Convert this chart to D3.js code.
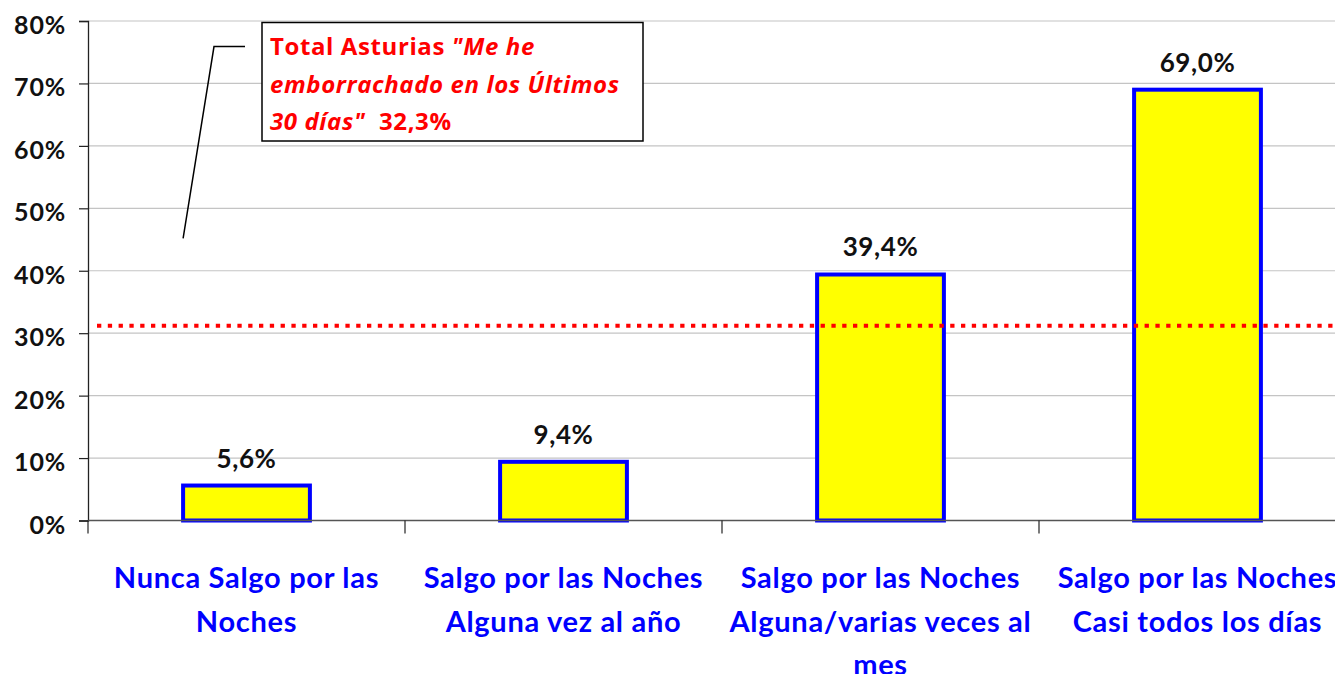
<!DOCTYPE html>
<html>
<head>
<meta charset="utf-8">
<script src="https://cdn.jsdelivr.net/npm/d3@7"></script>
<style>
  body { margin: 0; background: #fff; }
  text { font-family: Lato, "Open Sans", sans-serif; font-weight: bold; }
</style>
</head>
<body>
<script>
// chart data
const categories = ['nunca', 'alguna-vez-ano', 'varias-veces-mes', 'casi-todos'];
const categoryLines = [
  ['Nunca Salgo por las', 'Noches'],
  ['Salgo por las Noches', 'Alguna vez al año'],
  ['Salgo por las Noches', 'Alguna/varias veces al', 'mes'],
  ['Salgo por las Noches', 'Casi todos los días']
];
const values = [5.6, 9.4, 39.4, 69.0];
const valueLabels = ['5,6%', '9,4%', '39,4%', '69,0%'];
const yTicks = [0, 10, 20, 30, 40, 50, 60, 70, 80];
const totalLineValue = 31.2;   // where the dotted line is drawn
const noteLines = [
  [['Total Asturias ', false], ['"Me he', true]],
  [['emborrachado en los Últimos', true]],
  [['30 días"', true], ['  32,3%', false]]
];

const width = 1335, height = 674;
const plotLeft = 88, plotBottom = 520.5, plotTop = 21;

const svg = d3.select('body')
  .append('svg')
  .attr('width', width)
  .attr('height', height);

const x = d3.scaleBand()
  .domain(categories)
  .range([plotLeft, plotLeft + 4 * 317])
  .paddingInner(0.6)
  .paddingOuter(0.3);

const y = d3.scaleLinear()
  .domain([0, 80])
  .range([plotBottom, plotTop]);

// gridlines
svg.append('g')
  .selectAll('line')
  .data(yTicks.slice(1))
  .enter()
  .append('line')
  .attr('x1', plotLeft)
  .attr('x2', width)
  .attr('y1', (d) => y(d))
  .attr('y2', (d) => y(d))
  .attr('stroke', '#c4c4c4')
  .attr('stroke-width', 1.2);

// y axis
const yAxis = svg.append('g')
  .attr('transform', 'translate(' + plotLeft + ',0)')
  .call(d3.axisLeft(y).tickValues(yTicks).tickFormat((d) => d + '%').tickSize(9).tickPadding(13));
yAxis.select('.domain').attr('stroke', '#222').attr('stroke-width', 1.3);
yAxis.selectAll('.tick line').attr('stroke', '#222').attr('stroke-width', 1.2);
yAxis.selectAll('.tick text')
  .attr('dy', '0.5em')
  .attr('fill', '#111')
  .style('font-size', '25px')
  .style('letter-spacing', '0.8px')
  .style('font-family', 'Lato, sans-serif')
  .style('font-weight', 'bold');

// bars
svg.selectAll('rect.bar')
  .data(values)
  .enter()
  .append('rect')
  .attr('class', 'bar')
  .attr('x', (d, i) => x(categories[i]))
  .attr('y', (d) => y(d))
  .attr('width', x.bandwidth())
  .attr('height', (d) => plotBottom - y(d))
  .attr('fill', '#ffff00')
  .attr('stroke', '#0000ff')
  .attr('stroke-width', 4);

// x axis line and separators
svg.append('line')
  .attr('x1', plotLeft).attr('x2', width)
  .attr('y1', plotBottom).attr('y2', plotBottom)
  .attr('stroke', '#555').attr('stroke-width', 1.6);

const step = x.step();
svg.append('g')
  .selectAll('line')
  .data(d3.range(categories.length + 1))
  .enter()
  .append('line')
  .attr('x1', (i) => plotLeft + i * step)
  .attr('x2', (i) => plotLeft + i * step)
  .attr('y1', plotBottom)
  .attr('y2', plotBottom + 13)
  .attr('stroke', '#222')
  .attr('stroke-width', 1.2);

// value labels
svg.selectAll('text.val')
  .data(values)
  .enter()
  .append('text')
  .attr('class', 'val')
  .attr('x', (d, i) => x(categories[i]) + x.bandwidth() / 2)
  .attr('y', (d) => y(d) - 18)
  .attr('text-anchor', 'middle')
  .attr('fill', '#111')
  .style('font-size', '26px')
  .style('letter-spacing', '0.6px')
  .text((d, i) => valueLabels[i]);

// category labels
const catText = svg.selectAll('text.cat')
  .data(categoryLines)
  .enter()
  .append('text')
  .attr('class', 'cat')
  .attr('text-anchor', 'middle')
  .attr('fill', '#0000ff')
  .style('font-size', '29px')
  .style('letter-spacing', '0.7px');
catText.selectAll('tspan')
  .data((d, i) => d.map((t) => ({ t: t, i: i })))
  .enter()
  .append('tspan')
  .attr('x', (d) => x(categories[d.i]) + x.bandwidth() / 2)
  .attr('y', (d, j) => 588 + j * 43.5)
  .text((d) => d.t);

// dotted total line
svg.append('line')
  .attr('x1', plotLeft + 9).attr('x2', width)
  .attr('y1', y(totalLineValue)).attr('y2', y(totalLineValue))
  .attr('stroke', '#ff0000')
  .attr('stroke-width', 4)
  .attr('stroke-dasharray', '4.3,6.5');

// note leader line
const leaderEnd = [x(categories[0]), y(45.2)];
const leaderElbow = [214, y(75.9)];
svg.append('path')
  .attr('d', d3.line()([leaderEnd, leaderElbow, [245, leaderElbow[1]]]))
  .attr('fill', 'none')
  .attr('stroke', '#000')
  .attr('stroke-width', 1.5);

// note box
svg.append('rect')
  .attr('x', 262).attr('y', 22.5)
  .attr('width', 381).attr('height', 118.5)
  .attr('fill', '#fff')
  .attr('stroke', '#000')
  .attr('stroke-width', 1.5);

const note = svg.append('text')
  .attr('fill', '#ff0000')
  .style('font-family', '"Open Sans", sans-serif')
  .style('font-size', '24px')
  .style('letter-spacing', '0.6px');
noteLines.forEach((line, j) => {
  line.forEach((part, k) => {
    const ts = note.append('tspan')
      .style('font-style', part[1] ? 'italic' : 'normal')
      .style('white-space', 'pre')
      .text(part[0]);
    if (k === 0) ts.attr('x', 270).attr('y', 55 + j * 37.7);
  });
});
</script>
</body>
</html>
